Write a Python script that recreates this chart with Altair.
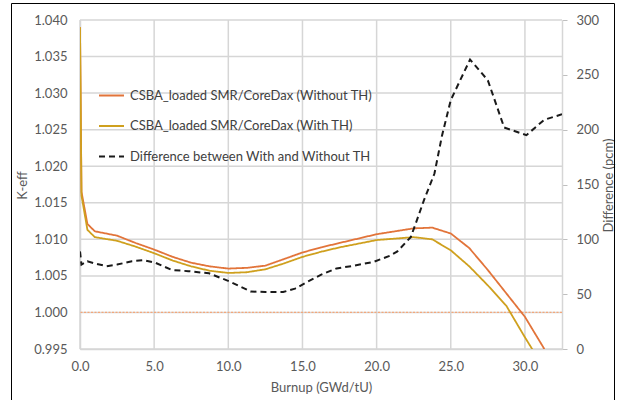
import altair as alt
import pandas as pd

# K-eff series (burnup in GWd/tU)
burnup = [0, 0.1, 0.5, 1, 2.5, 3.75, 5, 6.25, 7.5, 8.75, 10, 11.25, 12.5, 13.75, 15,
          16.25, 17.5, 18.75, 20, 21.25, 22.5, 23.75, 25, 26.25, 27.5, 28.75, 30, 31.25, 32.5]
keff_without = [1.0390, 1.0165, 1.0121, 1.0111, 1.0105, 1.0095, 1.0086, 1.0076, 1.0068, 1.0063,
                1.0060, 1.0061, 1.0064, 1.0073, 1.0082, 1.0089, 1.0095, 1.0101, 1.0107, 1.0111,
                1.0115, 1.0116, 1.0108, 1.0088, 1.0058, 1.0026, 0.9994, 0.9952, 0.9900]
keff_with = [1.0390, 1.0160, 1.0113, 1.0103, 1.0098, 1.0090, 1.0081, 1.0071, 1.0063, 1.0057,
             1.0054, 1.0055, 1.0059, 1.0067, 1.0076, 1.0083, 1.0089, 1.0094, 1.0099, 1.0101,
             1.0103, 1.0100, 1.0085, 1.0063, 1.0037, 1.0009, 0.9966, 0.9925, 0.9880]

# Difference series (pcm)
diff_burnup = [0, 0.1, 0.5, 1.0, 1.8, 2.5, 3.5, 4.3, 5.1, 6.2, 7.3, 8.7, 10.1, 11.5, 12.5,
               13.7, 14.5, 15.3, 16.3, 17.3, 18.5, 19.8, 20.9, 21.4, 22.3, 22.6, 23.2, 23.9,
               24.4, 25.0, 26.3, 27.5, 28.6, 30.1, 31.3, 32.5]
diff_pcm = [89, 77, 80, 78, 75.5, 77, 80, 81, 78.5, 72, 71, 69, 61.5, 52.5, 52,
            52, 55, 61, 68, 73.5, 76, 79.5, 85, 89, 102, 113, 136, 160,
            194, 227, 264, 245, 202, 195, 209, 214]

series_names = ["CSBA_loaded SMR/CoreDax (Without TH)",
                "CSBA_loaded SMR/CoreDax (With TH)",
                "Difference between With and Without TH"]
series_colors = ["#E2743A", "#CFA01E", "#1a1a1a"]
series_dash = [[1, 0], [1, 0], [6, 4]]

x_ticks = [0, 5, 10, 15, 20, 25, 30]
k_ticks = [0.995, 1.000, 1.005, 1.010, 1.015, 1.020, 1.025, 1.030, 1.035, 1.040]
d_ticks = [0, 50, 100, 150, 200, 250, 300]

FONT = "Lato"
TXT = "#595959"
GRID = "#d6d6d6"

kdf = pd.concat([
    pd.DataFrame({"burnup": burnup, "keff": keff_without, "series": series_names[0]}),
    pd.DataFrame({"burnup": burnup, "keff": keff_with, "series": series_names[1]}),
])
ddf = pd.DataFrame({"burnup": diff_burnup, "diff": diff_pcm, "series": series_names[2]})

xscale = alt.Scale(domain=[0, 32.5], nice=False, zero=False)
xaxis = alt.Axis(values=x_ticks, format=".1f", title="Burnup (GWd/tU)", grid=False,
                 domainColor=GRID, domainWidth=1.5, ticks=False, labelPadding=11, titlePadding=8,
                 labelFlush=False, labelOverlap=False)

legend = alt.Legend(title=None, orient="none", legendX=18, legendY=62,
                    symbolType="stroke", symbolSize=625, symbolStrokeWidth=2,
                    rowPadding=9.5, labelFontSize=13, labelColor="#404040",
                    labelFont=FONT, labelOffset=5, labelLimit=400)
color = alt.Color("series:N", scale=alt.Scale(domain=series_names, range=series_colors),
                  legend=legend)
dash = alt.StrokeDash("series:N", scale=alt.Scale(domain=series_names, range=series_dash),
                      legend=legend)

kscale = alt.Scale(domain=[0.995, 1.040], nice=False, zero=False)
kaxis = alt.Axis(values=k_ticks, format=".3f", title="K-eff", grid=False,
                 domainColor=GRID, domainWidth=1.5, ticks=False, labelPadding=13,
                 labelFlush=False, labelOverlap=False,
                 titleX=-58, titleY=165, titleBaseline="middle", titleAlign="center")

frame = alt.Chart(pd.DataFrame({"a": [0]})).mark_rect(
    fill="transparent", stroke="black", strokeWidth=1
).encode(x=alt.value(-68.5), x2=alt.value(534.5), y=alt.value(-16.5), y2=alt.value(395))

vgrid = alt.Chart(pd.DataFrame({"burnup": x_ticks})).mark_rule(
    stroke=GRID, strokeWidth=1.5, opacity=1
).encode(x=alt.X("burnup:Q", scale=xscale, axis=xaxis))

hgrid = alt.Chart(pd.DataFrame({"keff": k_ticks})).mark_rule(
    stroke=GRID, strokeWidth=1.5, opacity=1
).encode(y=alt.Y("keff:Q", scale=kscale, axis=kaxis))

klines = alt.Chart(kdf).mark_line(strokeWidth=1.8, clip=True).encode(
    x=alt.X("burnup:Q", scale=xscale, axis=xaxis),
    y=alt.Y("keff:Q", scale=kscale, axis=kaxis),
    color=color,
    strokeDash=dash,
    order=alt.Order("burnup:Q"),
)

ref = alt.Chart(pd.DataFrame({"keff": [1.000]})).mark_rule(
    color="#F4A77A", strokeDash=[2, 1.5], strokeWidth=1.3
).encode(y=alt.Y("keff:Q", scale=kscale, axis=kaxis))

inner = alt.layer(frame, vgrid, hgrid, ref, klines)

dline = alt.Chart(ddf).mark_line(strokeWidth=2, clip=True).encode(
    x=alt.X("burnup:Q", scale=xscale, axis=xaxis),
    y=alt.Y("diff:Q", scale=alt.Scale(domain=[0, 300], nice=False),
            axis=alt.Axis(orient="right", values=d_ticks, title="Difference (pcm)", grid=False,
                          domainColor=GRID, domainWidth=1.5, ticks=True, tickColor="#bfbfbf",
                          tickSize=5, labelPadding=9, labelFlush=False, labelOverlap=False,
                          titleAngle=270, titleX=46, titleY=165,
                          titleBaseline="middle", titleAlign="center")),
    color=color,
    strokeDash=dash,
    order=alt.Order("burnup:Q"),
)

chart = alt.layer(inner, dline).resolve_scale(y="independent").properties(
    width=482, height=329,
    autosize=alt.AutoSizeParams(type="none"),
    padding={"left": 80, "top": 20, "right": 57, "bottom": 51},
    background="white",
).configure_view(stroke=None).configure_axis(
    labelFont=FONT, titleFont=FONT, labelFontSize=13, titleFontSize=13,
    labelColor=TXT, titleColor=TXT, titleFontWeight="normal",
)

chart.save("out.html", embed_options={"renderer": "svg", "actions": False})
